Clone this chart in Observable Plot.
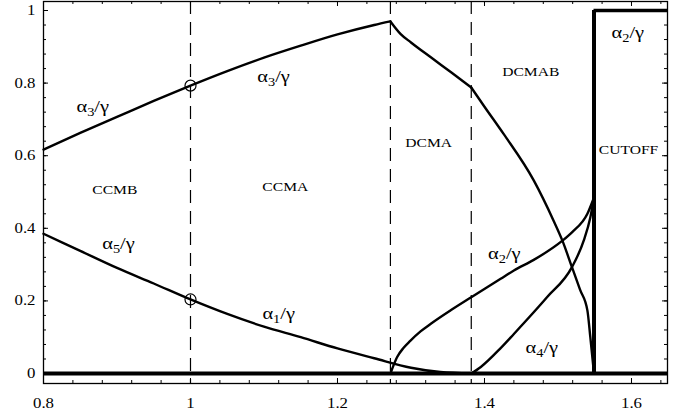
<!DOCTYPE html>
<html>
<head>
<meta charset="utf-8">
<script src="https://cdn.jsdelivr.net/npm/d3@7"></script>
<script src="https://cdn.jsdelivr.net/npm/@observablehq/plot@0.6"></script>
<style>
  html, body { margin: 0; padding: 0; background: #fff; }
  #chart svg { display: block; }
  #chart svg text { font-family: 'Liberation Serif', 'Times New Roman', serif; }
</style>
</head>
<body>
<div id="chart"></div>
<script>
// Normalised eigenvalue ratios alpha_i / gamma against the control parameter.
// alpha3 is split at its two kinks (CCMA/DCMA and DCMA/DCMAB boundaries).
const alpha3aX = [0.8, 0.85, 0.9, 0.95, 1.0, 1.05, 1.1, 1.15, 1.2, 1.25, 1.272];
const alpha3aY = [0.617, 0.663, 0.707, 0.751, 0.793, 0.833, 0.870, 0.903, 0.934, 0.960, 0.970];
const alpha3bX = [1.272, 1.286, 1.3, 1.327, 1.355, 1.382];
const alpha3bY = [0.970, 0.935, 0.912, 0.871, 0.829, 0.788];
const alpha3cX = [1.382, 1.4, 1.426, 1.467, 1.494, 1.506, 1.519, 1.53, 1.54, 1.544, 1.549];
const alpha3cY = [0.788, 0.735, 0.660, 0.532, 0.421, 0.366, 0.293, 0.231, 0.174, 0.100, 0.0];

// alpha5 (left of x = 1) continuing as alpha1
const alpha1X = [0.8, 0.85, 0.9, 0.95, 1.0, 1.05, 1.1, 1.15, 1.2, 1.25, 1.3, 1.34, 1.382];
const alpha1Y = [0.385, 0.338, 0.291, 0.248, 0.204, 0.164, 0.129, 0.100, 0.069, 0.042, 0.016, 0.004, 0.0];

const alpha2X = [1.272, 1.281, 1.29, 1.299, 1.313, 1.327, 1.354, 1.382, 1.422, 1.44, 1.467, 1.506, 1.519, 1.54, 1.549];
const alpha2Y = [0.0, 0.045, 0.071, 0.09, 0.116, 0.137, 0.174, 0.210, 0.261, 0.284, 0.313, 0.366, 0.389, 0.44, 0.485];

const alpha4X = [1.382, 1.395, 1.422, 1.44, 1.485, 1.519, 1.535, 1.544, 1.549];
const alpha4Y = [0.0, 0.018, 0.07, 0.109, 0.21, 0.293, 0.366, 0.43, 0.485];

// Regime boundaries and the cutoff
const boundaryX = [1.0, 1.272, 1.382];
const cutoffX = 1.549;
const cutoffLevel = 1;

// Marked points at x = 1
const markX = [1.0, 1.0];
const markY = [0.793, 0.204];

// Annotations
const labelText = ["α3/γ", "α3/γ", "α5/γ", "α1/γ", "α2/γ", "α4/γ", "α2/γ"];
const labelX = [0.867, 1.113, 0.902, 1.120, 1.427, 1.478, 1.595];
const labelY = [0.736, 0.818, 0.358, 0.165, 0.331, 0.072, 0.939];

const regionText = ["CCMB", "CCMA", "DCMA", "DCMAB", "CUTOFF"];
const regionX = [0.897, 1.129, 1.324, 1.463, 1.596];
const regionY = [0.507, 0.515, 0.636, 0.832, 0.617];

// Axis ticks
const xTickValues = [0.8, 1, 1.2, 1.4, 1.6];
const yTickValues = [0, 0.2, 0.4, 0.6, 0.8, 1];
const xDomain = [0.8, 1.649];
const yDomain = [-0.0275, 1.0248];
const xMinor = d3.range(0, 22).map(i => +(0.8 + 0.04 * i).toFixed(2)).filter(v => v <= xDomain[1]);
const yMinor = d3.range(0, 26).map(i => +(0.04 * i).toFixed(2)).filter(v => v <= yDomain[1]);

const W = 683, H = 419;
const M = {top: 1, right: 16, bottom: 36, left: 43};
const innerW = W - M.left - M.right;
const innerH = H - M.top - M.bottom;

const rows = (xs, ys, seg) => xs.map((x, i) => ({x, y: ys[i], seg}));
const curves = [
  ...rows(alpha3aX, alpha3aY, "a3a"),
  ...rows(alpha3bX, alpha3bY, "a3b"),
  ...rows(alpha3cX, alpha3cY, "a3c"),
  ...rows(alpha1X, alpha1Y, "a1"),
  ...rows(alpha2X, alpha2Y, "a2"),
  ...rows(alpha4X, alpha4Y, "a4")
];
const marks = markX.map((x, i) => ({x, y: markY[i]}));
const labels = labelText.map((t, i) => ({t, x: labelX[i], y: labelY[i]}));
const regions = regionText.map((t, i) => ({t, x: regionX[i], y: regionY[i]}));

const majorLen = 5, minorLen = 3;
const serif = "'Liberation Serif', 'Times New Roman', serif";

const chart = Plot.plot({
  width: W,
  height: H,
  marginTop: M.top,
  marginRight: M.right,
  marginBottom: M.bottom,
  marginLeft: M.left,
  style: {fontFamily: serif, fontSize: "14px", background: "#fff", color: "#000"},
  x: {domain: xDomain, ticks: xTickValues, tickFormat: d => String(d), tickSize: 0, tickPadding: 15, label: null},
  y: {domain: yDomain, ticks: yTickValues, tickFormat: d => String(d), tickSize: 0, tickPadding: 8, label: null},
  marks: [
    // regime boundaries
    Plot.ruleX(boundaryX, {stroke: "#000", strokeWidth: 1.2, strokeDasharray: "13,8"}),
    // zero level and cutoff step
    Plot.ruleY([0], {stroke: "#000", strokeWidth: 4}),
    Plot.ruleX([cutoffX], {y1: 0, y2: cutoffLevel, stroke: "#000", strokeWidth: 4}),
    Plot.ruleY([cutoffLevel], {x1: cutoffX, x2: xDomain[1], stroke: "#000", strokeWidth: 3.5}),
    // eigenvalue ratio curves
    Plot.line(curves, {x: "x", y: "y", z: "seg", stroke: "#000", strokeWidth: 2.4, curve: "monotone-x"}),
    Plot.dot(marks, {x: "x", y: "y", r: 5.5, stroke: "#000", strokeWidth: 1.2, fill: "none"}),
    // inward ticks on all four sides
    Plot.tickX(xMinor, {x: d => d, insetTop: innerH - minorLen, stroke: "#000"}),
    Plot.tickX(xTickValues, {x: d => d, insetTop: innerH - majorLen, stroke: "#000"}),
    Plot.tickX(xMinor, {x: d => d, insetBottom: innerH - minorLen, stroke: "#000"}),
    Plot.tickX(xTickValues, {x: d => d, insetBottom: innerH - majorLen, stroke: "#000"}),
    Plot.tickY(yMinor, {y: d => d, insetRight: innerW - minorLen, stroke: "#000"}),
    Plot.tickY(yTickValues, {y: d => d, insetRight: innerW - majorLen, stroke: "#000"}),
    Plot.tickY(yMinor, {y: d => d, insetLeft: innerW - minorLen, stroke: "#000"}),
    Plot.tickY(yTickValues, {y: d => d, insetLeft: innerW - majorLen, stroke: "#000"}),
    Plot.frame({stroke: "#000", strokeWidth: 1.3}),
    // annotations
    Plot.text(labels, {x: "x", y: "y", text: "t", fontSize: 17, fill: "#000"}),
    Plot.text(regions, {x: "x", y: "y", text: "t", fontSize: 13, fill: "#000"})
  ]
});

document.getElementById("chart").appendChild(chart);

// Subscripted ratio labels: αN/γ
const NS = "http://www.w3.org/2000/svg";
chart.querySelectorAll("text").forEach(t => {
  const m = /^α(\d)\/γ$/.exec(t.textContent);
  if (!m) return;
  t.textContent = "";
  const a = document.createElementNS(NS, "tspan");
  a.textContent = "α";
  const s = document.createElementNS(NS, "tspan");
  s.textContent = m[1];
  s.setAttribute("font-size", "12");
  s.setAttribute("dy", "4");
  const g = document.createElementNS(NS, "tspan");
  g.textContent = "/γ";
  g.setAttribute("dy", "-4");
  t.append(a, s, g);
});

// Serif lettering throughout, slightly widened about each text's own anchor
chart.querySelectorAll("text").forEach(t => {
  t.setAttribute("font-family", serif);
  t.style.fontFamily = serif;
  const x = +(t.getAttribute("x") || 0);
  const prev = t.getAttribute("transform") || "";
  t.setAttribute("transform", `${prev} translate(${x},0) scale(1.2,1) translate(${-x},0)`.trim());
});
</script>
</body>
</html>
